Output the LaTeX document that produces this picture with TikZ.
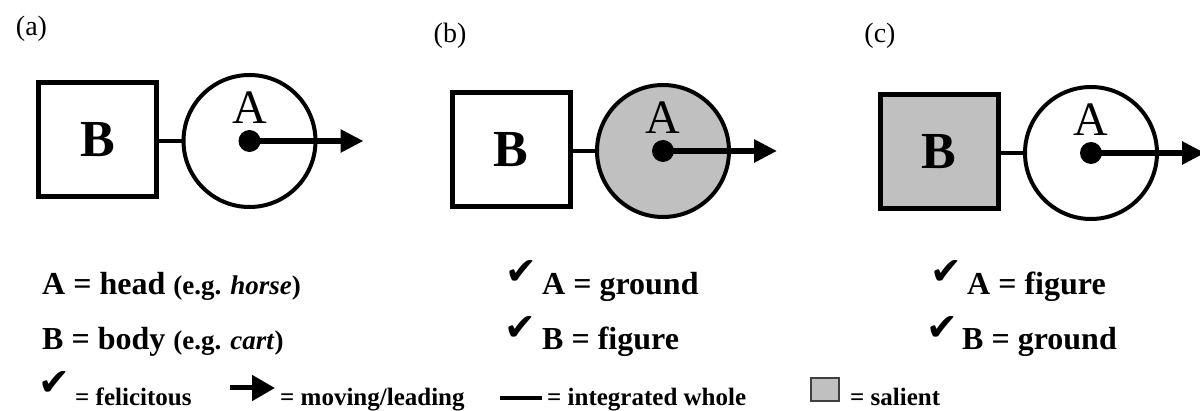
\documentclass[tikz,border=0pt]{standalone}
\usepackage{fontspec}
\setmainfont{Liberation Serif}
\newfontfamily\symfont{DejaVu Sans}
\usetikzlibrary{arrows.meta,positioning}
\definecolor{salient}{RGB}{192,192,192}

\begin{document}
\begin{tikzpicture}[
  x=1pt, y=-1pt,
  >={Triangle[length=23pt, width=22pt]},
  tag/.style={inner sep=0pt, font={\fontsize{28}{30}\selectfont}},
  sqbox/.style={draw, line width=5pt, minimum width=118pt, minimum height=114pt, inner sep=0pt, font={\fontsize{52}{56}\selectfont\bfseries}},
  wheel/.style={draw, circle, line width=4pt, minimum size=132pt, inner sep=0pt},
  hub/.style={circle, fill=black, minimum size=22pt, inner sep=0pt},
  letter/.style={anchor=base, inner sep=0pt, font={\fontsize{48}{50}\selectfont}},
  row/.style={anchor=base west, inner sep=0pt, font={\fontsize{32}{36}\selectfont\bfseries}},
  note/.style={anchor=base west, inner sep=0pt, font={\fontsize{25}{28}\selectfont\bfseries}},
  tick/.style={inner sep=0pt, font={\symfont\fontsize{38}{38}\selectfont}},
  arrow/.style={->, line width=6pt}
]
  \useasboundingbox (0,0) rectangle (1200,411);
  \clip (0,0) rectangle (1200,411);

  % the three panels
  \foreach \p/\cx/\cy/\lx/\ly/\sqfill/\whfill in {a/249.5/141/31.5/29/white/white, b/663/151/450/35.5/white/salient, c/1091/153/880/35.5/salient/white}{
    \node[tag] (tag-\p) at (\lx,\ly) {(\p)};
    \node[wheel, fill=\whfill] (wh-\p) at (\cx,\cy) {};
    \node[sqbox, fill=\sqfill] (sq-\p) at (\cx-152,\cy-1) {B};
    \node[letter] (lt-\p) at (\cx,\cy-17) {A};
    \node[hub] (hub-\p) at (\cx,\cy) {};
    \coordinate (tip-\p) at (\cx+114,\cy);
    \draw[line width=4pt] (sq-\p.east |- wh-\p.west) -- (wh-\p.west);
    \draw[arrow] (hub-\p.center) -- (tip-\p);
  }

  % readings under each panel
  \node[row] (ra1) at (42,295) {A = head {\fontsize{27}{30}\selectfont(e.g. \textit{horse})}};
  \node[row] (ra2) at (42,350) {B = body {\fontsize{27}{30}\selectfont(e.g. \textit{cart})}};
  \node[row] (rb1) at (542,295) {A = ground};
  \node[row] (rb2) at (542,350) {B = figure};
  \node[row] (rc1) at (967,295) {A = figure};
  \node[row] (rc2) at (962,350) {B = ground};
  \node[tick] (kb1) at (521,273) {✔};
  \node[tick] (kb2) at (520,329) {✔};
  \node[tick] (kc1) at (946,273) {✔};
  \node[tick] (kc2) at (942,329) {✔};

  % legend
  \node[tick] (kl) at (54,384) {✔};
  \node[note] (nl1) at (75,406) {= felicitous};
  \coordinate (la0) at (230,388);
  \coordinate (la1) at (275,388);
  \draw[->, >={Triangle[length=23pt, width=25pt]}, line width=5pt] (la0) -- (la1);
  \node[note] (nl2) at (280,406) {= moving/leading};
  \coordinate (ll0) at (500,398);
  \coordinate (ll1) at (542,398);
  \draw[line width=4pt] (ll0) -- (ll1);
  \node[note] (nl3) at (547,406) {= integrated whole};
  \node[draw=black!75, fill=salient, line width=2pt, minimum width=28pt, minimum height=23pt, inner sep=0pt] (lsq) at (825,389.5) {};
  \node[note] (nl4) at (850,406) {= salient};
\end{tikzpicture}
\end{document}
